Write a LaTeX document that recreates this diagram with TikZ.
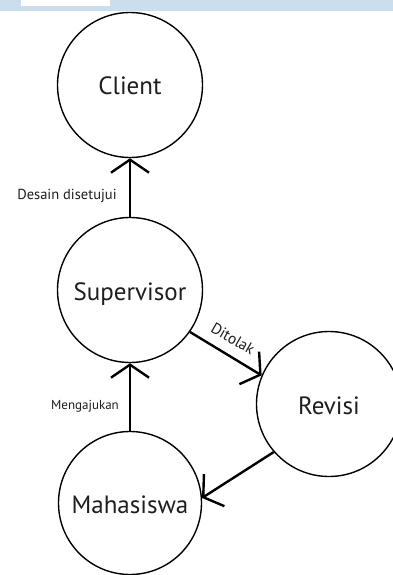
\documentclass[tikz,border=0pt]{standalone}
\usepackage{fontspec}
\setmainfont{PT Sans}
\usetikzlibrary{arrows.meta}
\definecolor{band}{RGB}{203,222,238}
\definecolor{ink}{RGB}{30,30,30}
\tikzset{
  state/.style={circle,draw=black,line width=1.4pt,minimum size=145pt,inner sep=0pt,font=\fontsize{25}{28}\selectfont,text=ink,text height=25pt,text depth=5pt},
  flow/.style={line width=2.4pt,-{Straight Barb[length=13pt,width=38pt,line width=2.4pt]}},
  lbl/.style={font=\fontsize{14.5}{16}\selectfont,text=ink,inner sep=0pt}
}
\begin{document}
\begin{tikzpicture}[x=1pt,y=-1pt]
\useasboundingbox (0,0) rectangle (393,575);
\fill[white] (0,0) rectangle (393,575);
\fill[band] (0,0) rectangle (393,11);
\fill[white] (21,0) rectangle (110,6);
\node[state] (client) at (130,85) {Client};
\node[state] (sup) at (130,290) {Supervisor};
\node[state] (rev) at (329,404) {Revisi};
\node[state,minimum size=143pt] (mhs) at (130,503) {Mahasiswa};
\draw[flow] (sup.north) -- (client.south);
\draw[flow] (mhs.north) -- (sup.south);
\draw[flow] (sup.-35) -- (rev.157);
\draw[flow] (rev.221) -- (mhs.4);
\node[lbl] (l1) at (67,196) {Desain disetujui};
\node[lbl,font=\fontsize{13}{14}\selectfont] (l2) at (85,406) {Mengajukan};
\node[lbl,font=\fontsize{15.5}{17}\selectfont,rotate=-30] (l3) at (233,339) {Ditolak};
\end{tikzpicture}
\end{document}
